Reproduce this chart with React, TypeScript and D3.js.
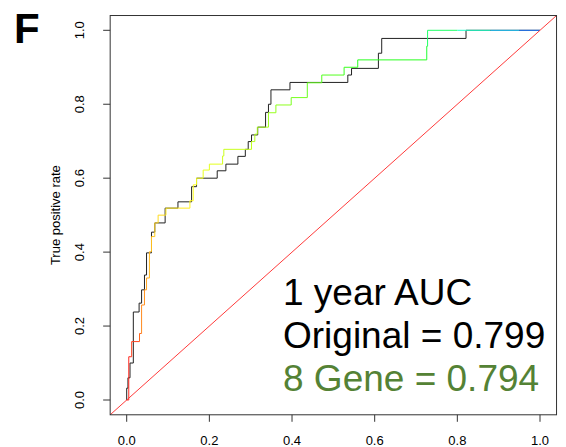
import React from 'react';
import * as d3 from 'd3';

const tickValues = [0, 0.2, 0.4, 0.6, 0.8, 1.0];

const originalFpr = [0, 0.003, 0.008, 0.016, 0.030, 0.036, 0.043, 0.048, 0.060, 0.068, 0.093, 0.124, 0.157, 0.169, 0.219, 0.240, 0.269, 0.287, 0.294, 0.302, 0.317, 0.336, 0.343, 0.349, 0.395, 0.535, 0.544, 0.609, 0.617, 0.821, 1];
const originalTpr = [0, 0.032, 0.060, 0.100, 0.238, 0.262, 0.298, 0.338, 0.398, 0.454, 0.479, 0.519, 0.536, 0.577, 0.600, 0.620, 0.638, 0.659, 0.678, 0.699, 0.717, 0.738, 0.778, 0.800, 0.839, 0.859, 0.879, 0.897, 0.938, 0.978, 1.0];

const geneFpr = [0, 0.005, 0.012, 0.031, 0.036, 0.043, 0.048, 0.055, 0.060, 0.068, 0.076, 0.095, 0.153, 0.161, 0.169, 0.185, 0.200, 0.232, 0.235, 0.302, 0.310, 0.316, 0.343, 0.361, 0.398, 0.437, 0.472, 0.526, 0.559, 0.726, 0.728, 0.80, 0.88, 0.95, 1];
const geneTpr = [0, 0, 0.117, 0.158, 0.180, 0.257, 0.298, 0.330, 0.401, 0.442, 0.479, 0.500, 0.519, 0.539, 0.582, 0.600, 0.622, 0.638, 0.660, 0.678, 0.699, 0.719, 0.738, 0.777, 0.798, 0.818, 0.858, 0.879, 0.900, 0.920, 0.957, 1.0, 1.0, 1.0, 1.0];
const geneCutoff = [1, 0.99, 0.99, 0.96, 0.92, 0.88, 0.87, 0.85, 0.83, 0.82, 0.80, 0.79, 0.775, 0.76, 0.75, 0.74, 0.725, 0.72, 0.70, 0.69, 0.675, 0.667, 0.655, 0.64, 0.625, 0.60, 0.58, 0.56, 0.53, 0.51, 0.48, 0.42, 0.31, 0.19, 0.10];

const aucLines = ['1 year AUC', 'Original = 0.799', '8 Gene = 0.794'];
const yAxisLabel = 'True positive rate';
const panelLabel = 'F';

const FONT = "'Liberation Sans', Arial, Helvetica, sans-serif";

export default function App() {
  const W = 566;
  const H = 447;
  const x = d3.scaleLinear().domain([0, 1]).range([126.7, 540]);
  const y = d3.scaleLinear().domain([0, 1]).range([400, 30.3]);
  const bx0 = x(-0.04);
  const bx1 = x(1.04);
  const byBottom = y(-0.04);
  const byTop = y(1.04);

  const step = d3
    .line<[number, number]>()
    .x((d) => x(d[0]))
    .y((d) => y(d[1]))
    .curve(d3.curveStepBefore);

  const orig: [number, number][] = originalFpr.map((f, i) => [f, originalTpr[i]]);
  const gene: [number, number][] = geneFpr.map((f, i) => [f, geneTpr[i]]);

  const hue = d3.scaleLinear().domain([1, 0]).range([0, 240]);
  const color = (c: number) => d3.hsl(hue(c), 1, 0.56).formatHex();

  const tickFmt = d3.format('.1f');

  return (
    <svg width={W} height={H} style={{ position: 'absolute', left: 0, top: 0, background: '#fff' }}>
      <rect x={0} y={0} width={W} height={H} fill="#fff" />
      <path d={step(orig) || ''} fill="none" stroke="#222" strokeWidth={1} />
      {gene.slice(1).map((p, i) => (
        <path
          key={i}
          d={step([gene[i], p]) || ''}
          fill="none"
          stroke={color(geneCutoff[i + 1])}
          strokeWidth={1}
        />
      ))}
      <line x1={x(-0.04)} y1={y(-0.04)} x2={x(1.04)} y2={y(1.04)} stroke="#ff3b3b" strokeWidth={1} />
      <rect x={bx0} y={byTop} width={bx1 - bx0} height={byBottom - byTop} fill="none" stroke="#333" strokeWidth={1} />
      {tickValues.map((v) => (
        <g key={'x' + v}>
          <line x1={x(v)} x2={x(v)} y1={byBottom} y2={byBottom + 7} stroke="#333" />
          <text x={x(v)} y={445} textAnchor="middle" fontFamily={FONT} fontSize={13} fill="#000">
            {tickFmt(v)}
          </text>
        </g>
      ))}
      {tickValues.map((v) => (
        <g key={'y' + v}>
          <line x1={bx0 - 7} x2={bx0} y1={y(v)} y2={y(v)} stroke="#333" />
          <text
            transform={`translate(83.5,${y(v)}) rotate(-90)`}
            textAnchor="middle"
            fontFamily={FONT}
            fontSize={13}
            fill="#000"
          >
            {tickFmt(v)}
          </text>
        </g>
      ))}
      <text
        transform={`translate(59.5,${(y(0) + y(1)) / 2}) rotate(-90)`}
        textAnchor="middle"
        fontFamily={FONT}
        fontSize={13}
        fill="#000"
      >
        {yAxisLabel}
      </text>
      <text x={14} y={43} fontFamily={FONT} fontSize={42} fontWeight="bold" fill="#000">
        {panelLabel}
      </text>
      {aucLines.map((t, i) => (
        <text
          key={t}
          x={283}
          y={305 + i * 43}
          fontFamily={FONT}
          fontSize={37}
          fill={i === 2 ? '#548235' : '#000'}
        >
          {t}
        </text>
      ))}
    </svg>
  );
}
